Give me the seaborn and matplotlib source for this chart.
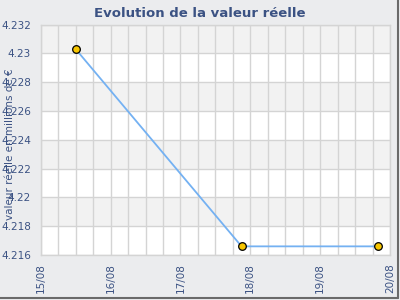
import matplotlib
matplotlib.use("Agg")
import matplotlib.pyplot as plt
import matplotlib.dates as mdates
from matplotlib.ticker import FuncFormatter, MultipleLocator
from matplotlib.lines import Line2D
import seaborn as sns
import pandas as pd

# Data
dates = ["2023-08-15 12:00", "2023-08-17 21:00", "2023-08-19 20:00"]
values = [4.2303, 4.2166, 4.2166]
title = "Evolution de la valeur réelle"
ylabel = "valeur réelle en millions de €"

df = pd.DataFrame({"date": pd.to_datetime(dates), "valeur": values})

sns.set_style("white")
plt.rcParams['font.family'] = ['DejaVu Sans']

text_color = "#3b5283"
bg = "#ebecee"

fig = plt.figure(figsize=(4, 3), dpi=100, facecolor=bg)
ax = fig.add_axes([0.1018, 0.15, 0.975 - 0.1018, 0.918 - 0.15])
ax.set_facecolor("white")

ymin, ymax = 4.216, 4.232
ax.set_ylim(ymin, ymax)
xmin, xmax = pd.Timestamp("2023-08-15"), pd.Timestamp("2023-08-20")
ax.set_xlim(xmin, xmax)

# alternating bands
step = 0.002
k = 0
y = ymax
while y - step >= ymin - 1e-9:
    if k % 2 == 0:
        ax.axhspan(y - step, y, color="#f2f2f2", zorder=0, lw=0)
    y -= step
    k += 1

sns.lineplot(data=df, x="date", y="valeur", ax=ax, color="#74b1f2", lw=1.3,
             marker="o", markersize=5.5, markerfacecolor="#f7c600",
             markeredgecolor="black", markeredgewidth=0.9, zorder=3, clip_on=False)

ax.yaxis.set_major_locator(MultipleLocator(step))
ax.yaxis.set_major_formatter(FuncFormatter(lambda v, p: "%g" % round(v, 3)))
ax.xaxis.set_major_locator(mdates.DayLocator())
ax.xaxis.set_major_formatter(mdates.DateFormatter("%d/%m"))
ax.xaxis.set_minor_locator(mdates.HourLocator(byhour=[0, 6, 12, 18]))

ax.grid(True, which="both", axis="x", color="#d4d4d4", lw=1, zorder=1)
ax.grid(True, which="major", axis="y", color="#d4d4d4", lw=1, zorder=1)
ax.set_axisbelow(True)

for s in ax.spines.values():
    s.set_color("#d4d4d4")
    s.set_linewidth(1)

ax.tick_params(axis="both", which="both", length=0, colors=text_color, labelsize=7.5)
ax.tick_params(axis="y", pad=7)
ax.tick_params(axis="x", pad=6)
for lab in ax.get_xticklabels():
    lab.set_rotation(90)

ax.set_xlabel("")
ax.set_ylabel(ylabel, color=text_color, fontsize=7.5)
ax.yaxis.set_label_coords(-0.075, 0.48)

fig.text(0.5, 0.955, title, ha="center", va="center", color=text_color,
         fontsize=9.5, fontweight="bold")

# frame border right/bottom
fig.add_artist(Line2D([0.0, 0.995], [0.006, 0.006], color="#6a6a6a", lw=1.5, transform=fig.transFigure))
fig.add_artist(Line2D([0.995, 0.995], [0.006, 1.0], color="#6a6a6a", lw=1.5, transform=fig.transFigure))

fig.savefig("out.png", dpi=100, facecolor=bg)
